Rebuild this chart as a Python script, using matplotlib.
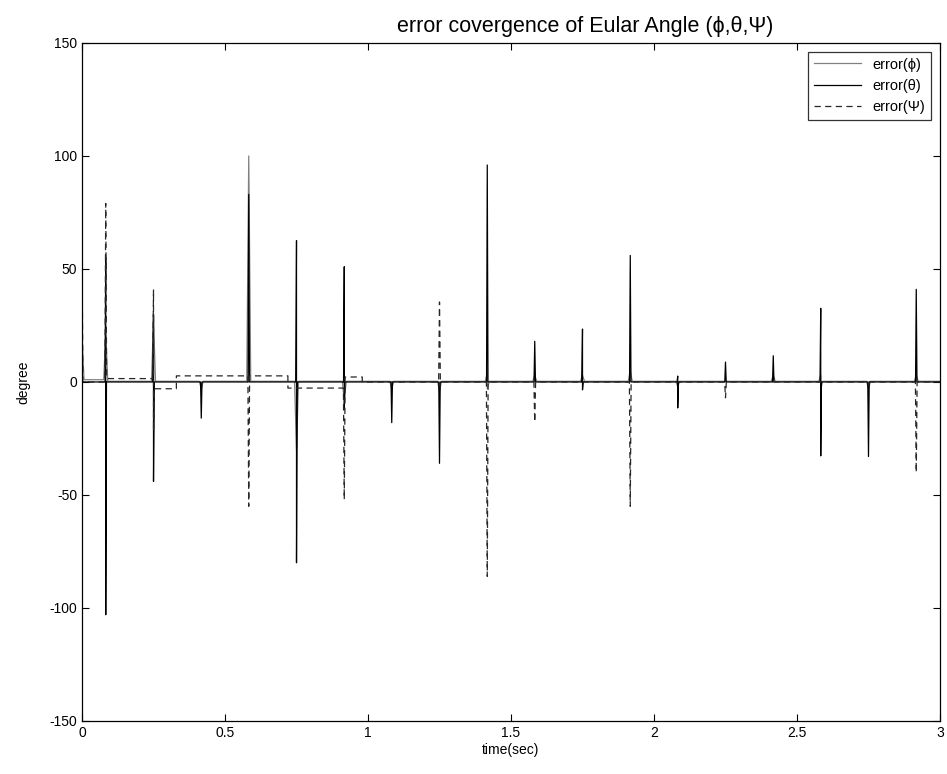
import numpy as np
import matplotlib
matplotlib.use('Agg')
import matplotlib.pyplot as plt
from matplotlib.ticker import FormatStrFormatter, MultipleLocator

plt.rcParams['font.family'] = ['Liberation Sans', 'DejaVu Sans']
plt.rcParams['axes.unicode_minus'] = False

# times of the disturbance spikes (sec)
spike_t = [0.0, 0.083, 0.25, 0.417, 0.583, 0.75, 0.917, 1.083, 1.25, 1.417,
           1.583, 1.75, 1.917, 2.083, 2.25, 2.417, 2.583, 2.75, 2.917]

# peak values (degree) at each spike, up / down excursion
phi_up   = [20, 22, 28, 0, 100, 0, 0, 0, 0, 4, 3, 3, 5, 0, 0, 3, 3, 0, 3]
phi_dn   = [0, 0, 0, -3, 0, -30, -8, -3, -4, -3, 0, 0, 0, -2, 0, 0, -3, -3, 0]
theta_up = [0, 55, 30, 0, 83, 62.5, 51, 0, 0, 96, 18, 23.4, 56, 2.6, 8.8, 11.6, 32.6, 0, 41]
theta_dn = [0, -103, -44, -16, 0, -80, -12, -18, -36, 0, 0, -3.5, 0, -11.5, 0, 0, -32.7, -33, 0]
psi_up   = [60, 79, 40.7, 0, 0, 0, 0, 0, 35.4, 0, 0, 0, 0, 0, 0, 0, 0, 0, 0]
psi_dn   = [0, 0, -22, 0, -55, 0, -52, 0, 0, -86, -17.7, 0, -55, 0, -7, 0, 0, 0, -40]

# slow offset of the psi error between spikes (step changes)
psi_step_t = [0.0, 0.083, 0.25, 0.33, 0.72, 0.917, 0.98]
psi_step_v = [0.0, 1.5, -3.0, 2.7, -2.7, 2.2, 0.0]
phi_step_t = [0.0, 0.083]
phi_step_v = [1.0, 0.3]


def build(up, dn, w, step_t=(0.0,), step_v=(0.0,)):
    def level(t):
        i = np.searchsorted(step_t, t, side='right') - 1
        return step_v[max(i, 0)]
    pts = [(0.0, step_v[0]), (3.0, step_v[-1])]
    # sharp steps of the baseline (skip those that coincide with a spike)
    for t, v in zip(step_t[1:], step_v[1:]):
        if min(abs(t - s) for s in spike_t) > 0.01:
            pts.append((t - 1e-4, level(t - 1e-3)))
            pts.append((t, v))
    for t, u, d in zip(spike_t, up, dn):
        seq = [(max(t - w, 0), level(t - 1e-6))]
        if u != 0:
            seq.append((t, u))
        if d != 0:
            seq.append((t + 1e-5, d))
        seq.append((t + w, level(t + 1e-6)))
        pts.extend(seq)
    pts.sort(key=lambda p: p[0])
    return np.array([p[0] for p in pts]), np.array([p[1] for p in pts])


fig = plt.figure(figsize=(9.47, 7.74), dpi=100)
ax = fig.add_axes([0.0866, 0.0685, 0.906, 0.876])

x1, y1 = build(phi_up, phi_dn, 0.007, phi_step_t, phi_step_v)
x2, y2 = build(theta_up, theta_dn, 0.0025)
x3, y3 = build(psi_up, psi_dn, 0.003, psi_step_t, psi_step_v)

ax.plot(x1, y1, color='0.5', lw=0.9, label='error(\u03d5)')
ax.plot(x2, y2, color='black', lw=0.9, label='error(\u03b8)')
ax.plot(x3, y3, color='0.15', lw=0.9, ls=(0, (5, 3.5)), label='error(\u03a8)')

ax.set_xlim(0, 3)
ax.set_ylim(-150, 150)
ax.xaxis.set_major_locator(MultipleLocator(0.5))
ax.yaxis.set_major_locator(MultipleLocator(50))
ax.xaxis.set_major_formatter(FormatStrFormatter('%g'))
ax.tick_params(direction='in', top=True, right=True, labelsize=10, length=5)
for s in ax.spines.values():
    s.set_linewidth(0.9)

ax.set_xlabel('time(sec)', fontsize=10, labelpad=2)
ax.set_ylabel('degree', fontsize=10, labelpad=14)
ax.set_title('error covergence of Eular Angle (\u03d5,\u03b8,\u03a8)', fontsize=15.5,
             x=0.586, pad=8)

leg = ax.legend(loc='upper right', fontsize=10.5, frameon=True, fancybox=False,
                edgecolor='black', borderaxespad=0.6, handlelength=3.2)
leg.get_frame().set_linewidth(0.9)

fig.savefig('out.png', dpi=100)
